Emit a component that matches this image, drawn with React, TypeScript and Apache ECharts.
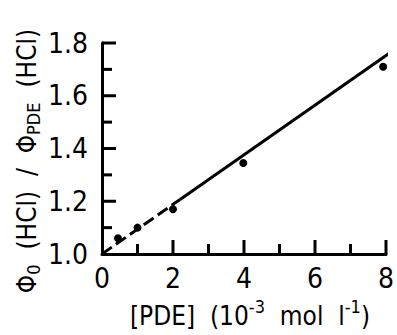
import React, { useEffect, useRef } from "react";
import * as echarts from "echarts";

const pdeConc = [0.45, 1.0, 2.0, 3.98, 7.92];
const quantumRatio = [1.06, 1.1, 1.17, 1.345, 1.71];
const fitDashedX = [0, 2.2];
const fitDashedY = [1.0, 1.207];
const fitSolidX = [2.2, 8.2];
const fitSolidY = [1.207, 1.771];
const xTicks = [0, 2, 4, 6, 8];
const yTicks = [1.0, 1.2, 1.4, 1.6, 1.8];
const xMajorTicks = [2, 4, 6, 8];
const xMinorTicks = [1, 3, 5, 7];
const yMajorTicks = [1.2, 1.4, 1.6, 1.8];
const yMinorTicks = [1.1, 1.3, 1.5, 1.7];

const FONT = "'DejaVu Sans Condensed', 'DejaVu Sans', sans-serif";

function axisBase() {
  return {
    axisLine: { show: true, lineStyle: { color: "#000", width: 3 } },
    axisTick: { show: false },
    minorTick: { show: false },
    splitLine: { show: false },
  };
}

const textGraphics = [
  {
    type: "text",
    x: 250,
    y: 313,
    style: {
      text: "{a|[PDE]  (10}{sup|-3}{a|  mol  l}{sup|-1}{a|)}",
      textAlign: "center",
      textVerticalAlign: "middle",
      fill: "#000",
      rich: {
        a: { fontSize: 26, fontFamily: FONT, fill: "#000", verticalAlign: "bottom" },
        sup: { fontSize: 18, fontFamily: FONT, fill: "#000", verticalAlign: "bottom", padding: [0, 0, 14, 0] },
      },
    },
  },
  {
    type: "text",
    x: 28,
    y: 161,
    rotation: Math.PI / 2,
    style: {
      text: "{a|Φ}{sub|0}{a|  (HCl)  /  Φ}{sub|PDE}{a|  (HCl)}",
      textAlign: "center",
      textVerticalAlign: "middle",
      fill: "#000",
      rich: {
        a: { fontSize: 26, fontFamily: FONT, fill: "#000", verticalAlign: "top" },
        sub: { fontSize: 18, fontFamily: FONT, fill: "#000", verticalAlign: "top", padding: [10, 0, 0, 0] },
      },
    },
  },
];

export default function App() {
  const ref = useRef<HTMLDivElement>(null);
  useEffect(() => {
    if (!ref.current) return;
    const chart = echarts.init(ref.current, undefined, { renderer: "svg" });
    const xMin = xTicks[0];
    const xMax = xTicks[xTicks.length - 1];
    const yMin = yTicks[0];
    const yMax = yTicks[yTicks.length - 1];
    chart.setOption({
      animation: false,
      backgroundColor: "#fff",
      grid: { left: 102, top: 43, right: 0, bottom: 81 },
      xAxis: {
        type: "value", min: xMin, max: xMax, interval: 2,
        ...axisBase(),
        axisLabel: { color: "#000", fontSize: 28, fontFamily: FONT, margin: 10, formatter: (v: number) => String(v) },
      },
      yAxis: {
        type: "value", min: yMin, max: yMax, interval: 0.2,
        ...axisBase(),
        axisLabel: { color: "#000", fontSize: 28, fontFamily: FONT, margin: 14, formatter: (v: number) => v.toFixed(1) },
      },
      graphic: textGraphics,
      series: [
        {
          type: "line",
          data: fitDashedX.map((x, i) => [x, fitDashedY[i]]),
          symbol: "none",
          lineStyle: { color: "#000", width: 3, type: [12, 5] },
          z: 2,
        },
        {
          type: "line",
          data: fitSolidX.map((x, i) => [x, fitSolidY[i]]),
          symbol: "none",
          lineStyle: { color: "#000", width: 3 },
          z: 2,
        },
        {
          type: "scatter",
          data: pdeConc.map((x, i) => [x, quantumRatio[i]]),
          symbol: "circle",
          symbolSize: 8,
          itemStyle: { color: "#000", opacity: 1 },
          z: 3,
        },
      ],
    });
    try {
      const ticks: any[] = [];
      const addX = (vals: number[], len: number) =>
        vals.forEach((v) => {
          const p = chart.convertToPixel({ gridIndex: 0 }, [v, yMin]) as number[];
          ticks.push({ type: "line", shape: { x1: p[0], y1: p[1], x2: p[0], y2: p[1] - len }, style: { stroke: "#000", lineWidth: 3 }, z: 10 });
        });
      const addY = (vals: number[], len: number) =>
        vals.forEach((v) => {
          const p = chart.convertToPixel({ gridIndex: 0 }, [xMin, v]) as number[];
          ticks.push({ type: "line", shape: { x1: p[0], y1: p[1], x2: p[0] + len, y2: p[1] }, style: { stroke: "#000", lineWidth: 3 }, z: 10 });
        });
      addX(xMajorTicks, 14);
      addX(xMinorTicks, 10);
      addY(yMajorTicks, 14);
      addY(yMinorTicks, 10);
      chart.setOption({ graphic: [...textGraphics, ...ticks] });
    } catch (e) {
      // keep the chart without ticks if conversion fails
    }
    return () => chart.dispose();
  }, []);
  return <div ref={ref} style={{ width: 397, height: 335, position: "absolute", left: 0, top: 0 }} />;
}
